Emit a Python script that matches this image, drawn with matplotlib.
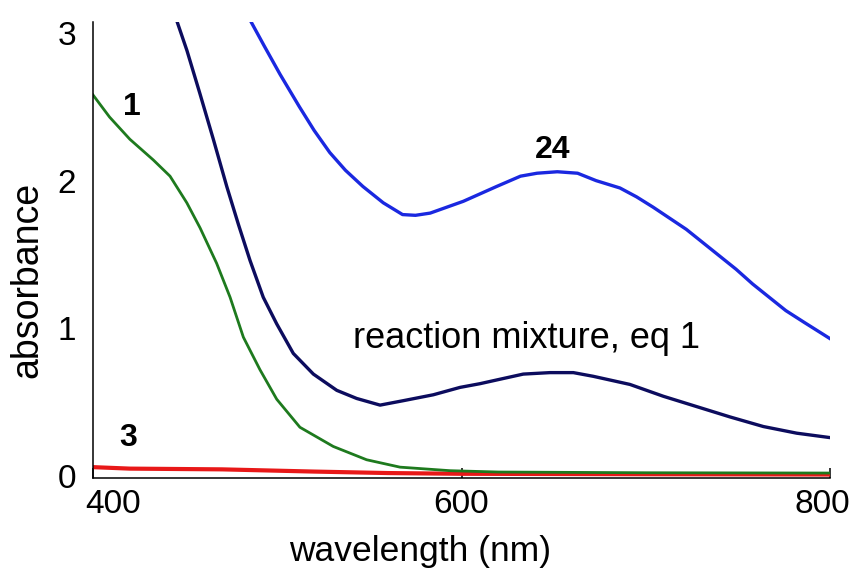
import matplotlib
matplotlib.use("Agg")
import matplotlib.pyplot as plt
import matplotlib.transforms as mtransforms
import numpy as np

# spectra (wavelength in nm, absorbance)
wl_24 = [486, 493, 501.5, 512, 520, 528.5, 537, 546.5, 557.5, 568, 575, 583, 592, 601,
         610, 619, 632, 641, 652, 663, 673, 686, 695, 704, 713, 722, 731, 740, 749,
         758, 767, 776, 786, 793, 800]
abs_24 = [3.07, 2.91, 2.72, 2.50, 2.34, 2.19, 2.07, 1.96, 1.85, 1.77, 1.765, 1.78, 1.82,
          1.86, 1.91, 1.96, 2.03, 2.05, 2.06, 2.05, 2.00, 1.95, 1.89, 1.82, 1.745, 1.67,
          1.58, 1.49, 1.40, 1.30, 1.21, 1.12, 1.04, 0.985, 0.93]

wl_mix = [445.8, 451, 458, 465.3, 472.6, 479, 485.2, 492.4, 499.7, 508.7, 519.6, 532.3,
          543.1, 555.8, 568.4, 584.7, 599.2, 610, 619, 633.5, 648, 660.7, 671.5, 691.4,
          709.5, 727.6, 745.7, 763.8, 781.9, 800]
abs_mix = [3.07, 2.88, 2.59, 2.28, 1.96, 1.70, 1.46, 1.21, 1.03, 0.83, 0.69, 0.58,
           0.525, 0.48, 0.51, 0.55, 0.60, 0.625, 0.65, 0.69, 0.70, 0.70, 0.675, 0.62,
           0.54, 0.47, 0.40, 0.335, 0.29, 0.26]

wl_1 = [400, 409, 420, 432.7, 441.8, 450.9, 458.1, 467.1, 474.4, 481.6, 490.6, 499.7,
        512.3, 530.4, 548.5, 566.6, 593.8, 620, 700, 800]
abs_1 = [2.58, 2.43, 2.28, 2.14, 2.03, 1.85, 1.68, 1.44, 1.21, 0.94, 0.72, 0.52,
         0.33, 0.20, 0.11, 0.06, 0.036, 0.027, 0.022, 0.02]

wl_3 = [400, 420, 470, 520, 560, 600, 700, 800]
abs_3 = [0.06, 0.05, 0.045, 0.03, 0.02, 0.015, 0.012, 0.01]

x_ticks = [400, 600, 800]
y_ticks = [0, 1, 2, 3]

plt.rcParams['font.family'] = ['Liberation Sans', 'DejaVu Sans']

fig = plt.figure(figsize=(8.58, 5.83), dpi=100)
ax = fig.add_axes([0.1084, 0.1801, 0.859, 0.7822])

ax.plot(wl_3, abs_3, color='#e81818', lw=3.0, solid_capstyle='butt')
ax.plot(wl_1, abs_1, color='#1e7a1e', lw=2.0)
ax.plot(wl_mix, abs_mix, color='#0c0c5e', lw=2.4)
ax.plot(wl_24, abs_24, color='#1a28e0', lw=2.4)

ax.set_xlim(400, 800)
ax.set_ylim(-0.0135, 3.074)
ax.set_xticks(x_ticks)
ax.set_yticks(y_ticks)
ax.tick_params(axis='x', direction='in', length=7, width=1.1, labelsize=24, pad=8)
ax.tick_params(axis='y', length=0, labelsize=24, pad=12)

for side in ['top', 'right']:
    ax.spines[side].set_visible(False)
for side in ['left', 'bottom']:
    ax.spines[side].set_linewidth(1.1)

# nudge the end labels like in the original
labels = ax.get_xticklabels()
labels[0].set_transform(labels[0].get_transform() +
                        mtransforms.ScaledTranslation(0.2, 0, fig.dpi_scale_trans))
labels[2].set_transform(labels[2].get_transform() +
                        mtransforms.ScaledTranslation(-0.08, 0, fig.dpi_scale_trans))

ax.set_xlabel('wavelength (nm)', fontsize=25.5)
ax.xaxis.set_label_coords(0.444, -0.125)
ax.set_ylabel('absorbance', fontsize=27)
ax.yaxis.set_label_coords(-0.064, 0.434)

ax.text(421.2, 2.50, '1', fontsize=23, fontweight='bold', ha='center', va='center')
ax.text(649.7, 2.207, '24', fontsize=23, fontweight='bold', ha='center', va='center')
ax.text(419, 0.257, '3', fontsize=23, fontweight='bold', ha='center', va='center')
ax.text(541, 0.934, 'reaction mixture, eq 1', fontsize=26, ha='left', va='center')

fig.savefig('out.png', dpi=100)
